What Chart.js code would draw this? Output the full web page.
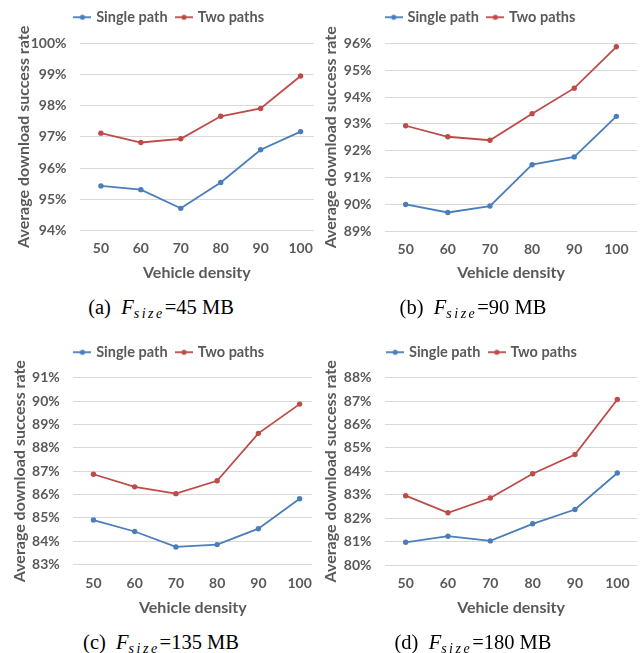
<!DOCTYPE html>
<html><head><meta charset="utf-8">
<script src="https://cdn.jsdelivr.net/npm/chart.js@4.4.1/dist/chart.umd.min.js"></script>
<style>
html,body{margin:0;padding:0;background:#fff;}
#wrap{position:relative;width:641px;height:653px;overflow:hidden;background:#fff;}
canvas{position:absolute;}
.cap{position:absolute;font-family:"Liberation Serif","Times New Roman",serif;font-size:20.5px;line-height:20px;color:#000;white-space:nowrap;transform:translateX(-50%);}
.cap i{font-style:italic;}
.cap sub{font-size:14px;font-style:italic;letter-spacing:2.5px;vertical-align:baseline;position:relative;top:4px;}
</style></head>
<body><div id="wrap">
<canvas id="ca" width="323" height="290" style="left:0;top:0"></canvas>
<canvas id="cb" width="331" height="290" style="left:310px;top:0"></canvas>
<canvas id="cc" width="322" height="290" style="left:0;top:335px"></canvas>
<canvas id="cd" width="331" height="290" style="left:310px;top:335px"></canvas>
<div class="cap" id="capa" style="left:161px;top:297px"></div>
<div class="cap" id="capb" style="left:473px;top:297px"></div>
<div class="cap" id="capc" style="left:161px;top:632px"></div>
<div class="cap" id="capd" style="left:473px;top:632px"></div>
</div>
<script>
// ---- data ----
const densities = [50, 60, 70, 80, 90, 100];
const seriesNames = ['Single path', 'Two paths'];
const singleA = [95.43, 95.31, 94.71, 95.54, 96.59, 97.17];
const twoA    = [97.12, 96.82, 96.94, 97.66, 97.91, 98.95];
const singleB = [90.00, 89.70, 89.94, 91.48, 91.77, 93.28];
const twoB    = [92.93, 92.52, 92.39, 93.38, 94.33, 95.87];
const singleC = [84.91, 84.42, 83.76, 83.86, 84.54, 85.82];
const twoC    = [86.87, 86.33, 86.04, 86.59, 88.62, 89.87];
const singleD = [80.97, 81.23, 81.03, 81.76, 82.37, 83.93];
const twoD    = [82.96, 82.23, 82.86, 83.90, 84.72, 87.07];
const yTicksA = [94, 95, 96, 97, 98, 99, 100];
const yTicksB = [89, 90, 91, 92, 93, 94, 95, 96];
const yTicksC = [83, 84, 85, 86, 87, 88, 89, 90, 91];
const yTicksD = [80, 81, 82, 83, 84, 85, 86, 87, 88];
const fileSizes = ['45', '90', '135', '180'];
const panelLetters = ['a', 'b', 'c', 'd'];
const yTitle = 'Average download success rate';
const xTitle = 'Vehicle density';

// ---- style ----
const COLORS = ['#4a7ebb', '#be4b48'];
const TXT = '#595959';
const FONT = 'Lato, "Open Sans", sans-serif';

function markerCanvas(color) {
  const c = document.createElement('canvas');
  c.width = 18; c.height = 8;
  const g = c.getContext('2d');
  g.strokeStyle = color; g.lineWidth = 1.8;
  g.beginPath(); g.moveTo(0, 4); g.lineTo(18, 4); g.stroke();
  g.fillStyle = color; g.beginPath(); g.arc(9, 4, 2.6, 0, Math.PI * 2); g.fill();
  return c;
}
const markers = COLORS.map(markerCanvas);

const fixLegend = {
  id: 'fixLegend',
  beforeUpdate(chart, args, opts) {
    const lg = chart.legend;
    if (lg && !lg._patched) {
      const orig = lg.fit;
      lg.fit = function () { orig.call(this); this.height = opts.h; };
      lg._patched = true;
    }
  }
};

function makeChart(id, single, two, yTicks, L) {
  const sets = [single, two];
  new Chart(document.getElementById(id), {
    type: 'line',
    data: {
      datasets: sets.map((vals, k) => ({
        label: seriesNames[k],
        data: vals.map((v, i) => ({ x: densities[i], y: v })),
        borderColor: COLORS[k],
        backgroundColor: COLORS[k],
        pointBackgroundColor: COLORS[k],
        borderWidth: 1.8,
        pointRadius: 2.7,
        pointBorderWidth: 0,
        tension: 0,
        fill: false
      }))
    },
    options: {
      responsive: false,
      animation: false,
      layout: { padding: { left: L.pl, right: 0, top: 0, bottom: 0 } },
      plugins: {
        fixLegend: { h: L.top },
        tooltip: { enabled: false },
        legend: {
          display: true,
          position: 'top',
          labels: {
            usePointStyle: true,
            pointStyleWidth: 13,
            padding: 10,
            color: TXT,
            font: { family: FONT, size: 14.5, weight: 'bold' },
            generateLabels(chart) {
              const items = Chart.defaults.plugins.legend.labels.generateLabels(chart);
              items.forEach((it, k) => { it.pointStyle = markers[k]; });
              return items;
            }
          }
        }
      },
      scales: {
        x: {
          type: 'linear',
          min: L.xmin, max: L.xmax,
          afterBuildTicks(s) { s.ticks = densities.map(v => ({ value: v })); },
          afterFit(s) { s.height = 290 - L.bottom; },
          grid: { display: false, drawTicks: false },
          border: { display: false },
          ticks: {
            padding: 10, color: TXT,
            font: { family: FONT, size: 14, weight: 'bold' },
            callback: v => String(v)
          },
          title: {
            display: true, text: xTitle, color: TXT,
            font: { family: FONT, size: 16, weight: 'bold' },
            padding: { top: 0, bottom: 7.5 }
          }
        },
        y: {
          min: yTicks[0], max: yTicks[yTicks.length - 1],
          afterBuildTicks(s) { s.ticks = yTicks.map(v => ({ value: v })); },
          afterFit(s) { s.width = L.yw; },
          grid: { color: '#d9d9d9', lineWidth: 1, drawTicks: false },
          border: { display: false },
          ticks: {
            padding: 13.5, color: TXT,
            font: { family: FONT, size: 14, weight: 'bold' },
            callback: v => v + '%'
          },
          title: {
            display: true, text: yTitle, color: TXT,
            font: { family: FONT, size: 16, weight: 'bold' },
            padding: { top: L.tp - 0.6, bottom: 0 }
          }
        }
      }
    },
    plugins: [fixLegend]
  });
}

makeChart('ca', singleA, twoA, yTicksA, { pl: 17, yw: 63, top: 43.3, bottom: 230.5, xmin: 44.77, xmax: 103.3, tp: -2 });
makeChart('cb', singleB, twoB, yTicksB, { pl: 11.6, yw: 63.4, top: 43.3, bottom: 231.3, xmin: 45.09, xmax: 104.9, tp: 0.4 });
makeChart('cc', singleC, twoC, yTicksC, { pl: 18, yw: 55.3, top: 42.7, bottom: 229.7, xmin: 45.11, xmax: 103.1, tp: -7.5 });
makeChart('cd', singleD, twoD, yTicksD, { pl: 14.6, yw: 60.4, top: 42.7, bottom: 230, xmin: 45.12, xmax: 104.65, tp: -2.6 });

panelLetters.forEach((p, i) => {
  document.getElementById('cap' + p).innerHTML =
    '(' + p + ')&nbsp;&nbsp;<i>F</i><sub>size</sub>=' + fileSizes[i] + ' MB';
});
</script>
</body></html>
